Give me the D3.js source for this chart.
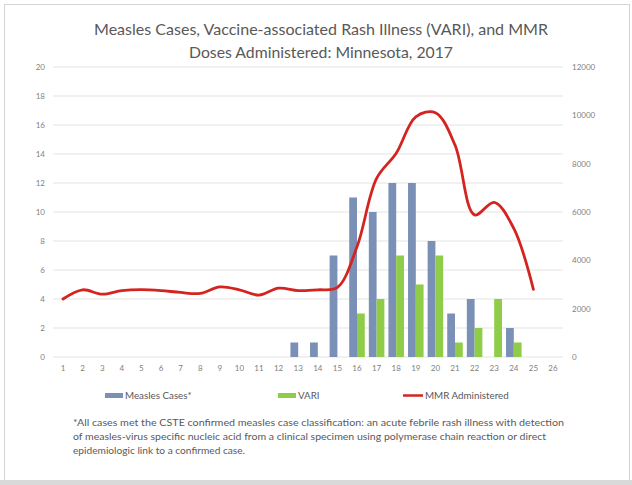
<!DOCTYPE html>
<html>
<head>
<meta charset="utf-8">
<script src="https://cdn.jsdelivr.net/npm/d3@7"></script>
<style>
  body { margin: 0; background: #fff; }
  text { font-family: Lato, "Open Sans", sans-serif; fill: #595959; }
  .tick-label { font-size: 8px; fill: #7f7f7f; }
  .legend { font-size: 9.8px; }
  .note { font-size: 10px; }
  .title { font-size: 15px; }
</style>
</head>
<body>
<svg width="632" height="485"></svg>
<script>
// **** data ****
var weeks = ["1","2","3","4","5","6","7","8","9","10","11","12","13","14","15","16","17","18","19","20","21","22","23","24","25","26"];
var measles = [0,0,0,0,0,0,0,0,0,0,0,0,1,1,7,11,10,12,12,8,3,4,0,2,0,0];
var vari    = [0,0,0,0,0,0,0,0,0,0,0,0,0,0,0,3,4,7,5,7,1,2,4,1,0,0];
var mmr     = [2400,2780,2600,2750,2790,2750,2670,2630,2900,2780,2560,2850,2750,2780,2880,4560,7390,8430,9940,10110,8770,5880,6400,5320,2800];
var leftTicks = [0,2,4,6,8,10,12,14,16,18,20];
var rightTicks = [0,2000,4000,6000,8000,10000,12000];
var titleLines = ["Measles Cases, Vaccine-associated Rash Illness (VARI), and MMR",
                  "Doses Administered: Minnesota, 2017"];
var noteLines = ["*All cases met the CSTE confirmed measles case classification: an acute febrile rash illness with detection",
                 "of measles-virus specific nucleic acid from a clinical specimen using polymerase chain reaction or direct",
                 "epidemiologic link to a confirmed case."];

var svg = d3.select("svg");

// frame
svg.append("rect").attr("x", 4.5).attr("y", 4.5).attr("width", 625).attr("height", 476)
    .style("fill", "#fff").style("stroke", "#d4d4d4").style("stroke-width", 1);
svg.append("rect").attr("x", 0).attr("y", 480).attr("width", 632).attr("height", 5).style("fill", "#d9d9d9");

// **** scales ****
var x = d3.scaleBand().domain(weeks).range([53.2, 562.8]);
var sub = d3.scaleBand().domain(["m", "v"]).range([0, x.bandwidth()]).paddingInner(0).paddingOuter(0.26);
var yL = d3.scaleLinear().domain([0, 20]).range([357, 67]);
var yR = d3.scaleLinear().domain([0, 12000]).range([357, 67]);

// gridlines
svg.append("g").selectAll("line").data(leftTicks).enter().append("line")
    .attr("x1", 53).attr("x2", 563)
    .attr("y1", function (d) { return yL(d); }).attr("y2", function (d) { return yL(d); })
    .style("stroke", "#e3e3e3").style("stroke-width", 1.2);

// left axis
svg.append("g").attr("class", "y axis").selectAll("text").data(leftTicks).enter().append("text")
    .attr("class", "tick-label").attr("x", 45).attr("y", function (d) { return yL(d) + 3; })
    .attr("text-anchor", "end").text(function (d) { return d; });

// right axis
svg.append("g").attr("class", "y axis").selectAll("text").data(rightTicks).enter().append("text")
    .attr("class", "tick-label").attr("x", 572).attr("y", function (d) { return yR(d) + 3; })
    .text(function (d) { return d; });

// x labels
svg.append("g").attr("class", "x axis").selectAll("text").data(weeks).enter().append("text")
    .attr("class", "tick-label").attr("x", function (d) { return x(d) + x.bandwidth() / 2; })
    .attr("y", 371).attr("text-anchor", "middle").text(function (d) { return d; });

// bars
var rows = weeks.map(function (w, i) { return { week: w, m: measles[i], v: vari[i] }; });
svg.append("g").selectAll("rect").data(rows.filter(function (d) { return d.m > 0; })).enter().append("rect")
    .attr("x", function (d) { return x(d.week) + sub("m"); })
    .attr("width", sub.bandwidth())
    .attr("y", function (d) { return yL(d.m); })
    .attr("height", function (d) { return yL(0) - yL(d.m); })
    .style("fill", "#7b90b6");
svg.append("g").selectAll("rect").data(rows.filter(function (d) { return d.v > 0; })).enter().append("rect")
    .attr("x", function (d) { return x(d.week) + sub("v"); })
    .attr("width", sub.bandwidth())
    .attr("y", function (d) { return yL(d.v); })
    .attr("height", function (d) { return yL(0) - yL(d.v); })
    .style("fill", "#8fcc47");

// MMR line
var line = d3.line()
    .x(function (d, i) { return x(weeks[i]) + x.bandwidth() / 2; })
    .y(function (d) { return yR(d); })
    .curve(d3.curveCatmullRom.alpha(0.5));
svg.append("path").datum(mmr).attr("d", line)
    .style("fill", "none").style("stroke", "#d42420").style("stroke-width", 2.8)
    .style("stroke-linejoin", "round").style("stroke-linecap", "round");

// title
svg.append("g").selectAll("text").data(titleLines).enter().append("text")
    .attr("class", "title").attr("x", 321).attr("y", function (d, i) { return 35 + i * 23; })
    .attr("text-anchor", "middle")
    .attr("textLength", function (d, i) { return i === 0 ? 454 : 264; })
    .attr("lengthAdjust", "spacingAndGlyphs")
    .text(function (d) { return d; });

// legend
var lg = svg.append("g").attr("class", "legend-g");
lg.append("rect").attr("x", 105).attr("y", 393).attr("width", 18).attr("height", 5).style("fill", "#7b90b6");
lg.append("text").attr("class", "legend").attr("x", 125).attr("y", 399).text("Measles Cases*");
lg.append("rect").attr("x", 278).attr("y", 393).attr("width", 18).attr("height", 5).style("fill", "#8fcc47");
lg.append("text").attr("class", "legend").attr("x", 298).attr("y", 399).text("VARI");
lg.append("line").attr("x1", 403).attr("x2", 423).attr("y1", 395.5).attr("y2", 395.5)
    .style("stroke", "#d42420").style("stroke-width", 2.5);
lg.append("text").attr("class", "legend").attr("x", 425).attr("y", 399).text("MMR Administered");

// footnote
svg.append("g").selectAll("text").data(noteLines).enter().append("text")
    .attr("class", "note").attr("x", 73).attr("y", function (d, i) { return 425.5 + i * 14; })
    .attr("textLength", function (d, i) { return [491, 473, 172][i]; })
    .attr("lengthAdjust", "spacingAndGlyphs")
    .text(function (d) { return d; });
</script>
</body>
</html>
